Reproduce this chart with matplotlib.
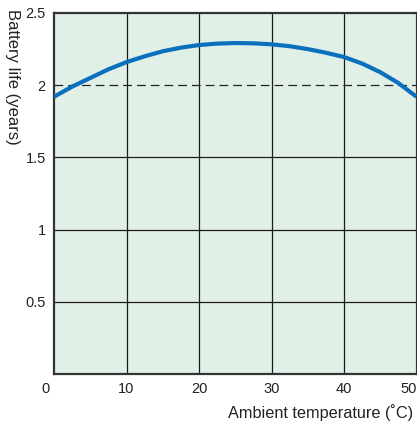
import matplotlib
matplotlib.use("Agg")
import matplotlib.pyplot as plt
from matplotlib.transforms import offset_copy

plt.rcParams['font.family'] = ['Liberation Sans', 'DejaVu Sans']

temperature = [0, 2.5, 5, 7.5, 10, 12.5, 15, 17.5, 20, 22.5, 25, 27.5, 30, 32.5, 35, 37.5, 40, 42.5, 45, 47.5, 50]
battery_life = [1.92, 1.99, 2.05, 2.11, 2.16, 2.20, 2.235, 2.26, 2.278, 2.288, 2.292, 2.29, 2.283, 2.27, 2.25, 2.225, 2.195, 2.15, 2.09, 2.015, 1.92]
xticks = [0, 10, 20, 30, 40, 50]
yticks = [0, 0.5, 1, 1.5, 2, 2.5]
ytick_labels = ['', '0.5', '1', '1.5', '2', '2.5']
reference_life = 2.0

fig = plt.figure(figsize=(4.17, 4.21), dpi=100)
ax = fig.add_axes([54/417, 1-374/421, (416.5-54)/417, (374-13)/421])
ax.set_facecolor('#e1f0e6')
ax.set_xlim(0, 50)
ax.set_ylim(0, 2.5)
ax.set_xticks(xticks)
ax.set_yticks(yticks)
ax.set_xticklabels([str(t) for t in xticks])
ax.set_yticklabels(ytick_labels)
ax.tick_params(length=0, labelsize=10.5, colors='#222222', pad=6)
for s in ax.spines.values():
    s.set_color('#333333')
    s.set_linewidth(1.6)

for xv in xticks[1:-1]:
    ax.axvline(xv, color='#1a1a1a', linewidth=0.9, zorder=1)
for yv in yticks[1:-1]:
    if yv != reference_life:
        ax.axhline(yv, color='#1a1a1a', linewidth=0.9, zorder=1)

ax.axhline(reference_life, color='#222222', linewidth=0.9, dashes=(7, 4), zorder=3)
ax.plot(temperature, battery_life, color='#0a70bd', linewidth=3.0, solid_capstyle='butt', zorder=4, clip_on=True)

fig.canvas.draw()
xl = ax.get_xticklabels()
xl[0].set_transform(offset_copy(xl[0].get_transform(), fig=fig, x=-9, y=0, units='dots'))
xl[-1].set_transform(offset_copy(xl[-1].get_transform(), fig=fig, x=-8, y=0, units='dots'))

fig.text(12/417, 1-9/421, 'Battery life (years)', rotation=270, ha='center', va='top', fontsize=12, color='#222222')
fig.text(228/417, 1-413/421, 'Ambient temperature (˚C)', ha='left', va='center', fontsize=11.7, color='#222222')

fig.savefig('out.png', dpi=100)
